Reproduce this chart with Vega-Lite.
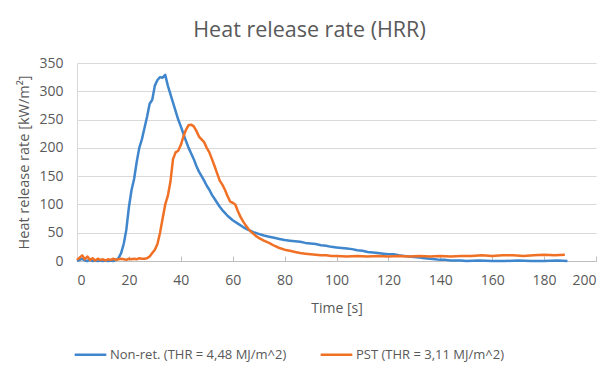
{
  "$schema": "https://vega.github.io/schema/vega-lite/v6.json",
  "autosize": {"type": "none"},
  "padding": {"left": 77, "top": 63, "right": 11, "bottom": 106},
  "width": 519,
  "height": 198,
  "background": "white",
  "title": {
    "text": "Heat release rate (HRR)",
    "fontSize": 21.5,
    "font": "Open Sans",
    "fontWeight": "normal",
    "color": "#595959",
    "anchor": "middle",
    "dx": -27,
    "offset": 15
  },
  "data": {"values": [
    {"s":"Non-ret. (THR = 4,48 MJ/m^2)","t":0,"v":0},
    {"s":"Non-ret. (THR = 4,48 MJ/m^2)","t":1,"v":2},
    {"s":"Non-ret. (THR = 4,48 MJ/m^2)","t":2,"v":4},
    {"s":"Non-ret. (THR = 4,48 MJ/m^2)","t":3,"v":1},
    {"s":"Non-ret. (THR = 4,48 MJ/m^2)","t":4,"v":0},
    {"s":"Non-ret. (THR = 4,48 MJ/m^2)","t":5,"v":2},
    {"s":"Non-ret. (THR = 4,48 MJ/m^2)","t":6,"v":0},
    {"s":"Non-ret. (THR = 4,48 MJ/m^2)","t":7,"v":1},
    {"s":"Non-ret. (THR = 4,48 MJ/m^2)","t":8,"v":0},
    {"s":"Non-ret. (THR = 4,48 MJ/m^2)","t":9,"v":1},
    {"s":"Non-ret. (THR = 4,48 MJ/m^2)","t":10,"v":0},
    {"s":"Non-ret. (THR = 4,48 MJ/m^2)","t":11,"v":1},
    {"s":"Non-ret. (THR = 4,48 MJ/m^2)","t":12,"v":0},
    {"s":"Non-ret. (THR = 4,48 MJ/m^2)","t":13,"v":1},
    {"s":"Non-ret. (THR = 4,48 MJ/m^2)","t":14,"v":0},
    {"s":"Non-ret. (THR = 4,48 MJ/m^2)","t":15,"v":2},
    {"s":"Non-ret. (THR = 4,48 MJ/m^2)","t":16,"v":5},
    {"s":"Non-ret. (THR = 4,48 MJ/m^2)","t":17,"v":14},
    {"s":"Non-ret. (THR = 4,48 MJ/m^2)","t":18,"v":30},
    {"s":"Non-ret. (THR = 4,48 MJ/m^2)","t":19,"v":55},
    {"s":"Non-ret. (THR = 4,48 MJ/m^2)","t":20,"v":95},
    {"s":"Non-ret. (THR = 4,48 MJ/m^2)","t":21,"v":125},
    {"s":"Non-ret. (THR = 4,48 MJ/m^2)","t":22,"v":145},
    {"s":"Non-ret. (THR = 4,48 MJ/m^2)","t":23,"v":175},
    {"s":"Non-ret. (THR = 4,48 MJ/m^2)","t":24,"v":200},
    {"s":"Non-ret. (THR = 4,48 MJ/m^2)","t":25,"v":215},
    {"s":"Non-ret. (THR = 4,48 MJ/m^2)","t":26,"v":235},
    {"s":"Non-ret. (THR = 4,48 MJ/m^2)","t":27,"v":255},
    {"s":"Non-ret. (THR = 4,48 MJ/m^2)","t":28,"v":278},
    {"s":"Non-ret. (THR = 4,48 MJ/m^2)","t":29,"v":285},
    {"s":"Non-ret. (THR = 4,48 MJ/m^2)","t":30,"v":310},
    {"s":"Non-ret. (THR = 4,48 MJ/m^2)","t":31,"v":320},
    {"s":"Non-ret. (THR = 4,48 MJ/m^2)","t":32,"v":325},
    {"s":"Non-ret. (THR = 4,48 MJ/m^2)","t":33,"v":324},
    {"s":"Non-ret. (THR = 4,48 MJ/m^2)","t":34,"v":329},
    {"s":"Non-ret. (THR = 4,48 MJ/m^2)","t":35,"v":310},
    {"s":"Non-ret. (THR = 4,48 MJ/m^2)","t":36,"v":295},
    {"s":"Non-ret. (THR = 4,48 MJ/m^2)","t":37,"v":280},
    {"s":"Non-ret. (THR = 4,48 MJ/m^2)","t":38,"v":265},
    {"s":"Non-ret. (THR = 4,48 MJ/m^2)","t":39,"v":250},
    {"s":"Non-ret. (THR = 4,48 MJ/m^2)","t":40,"v":238},
    {"s":"Non-ret. (THR = 4,48 MJ/m^2)","t":41,"v":225},
    {"s":"Non-ret. (THR = 4,48 MJ/m^2)","t":42,"v":212},
    {"s":"Non-ret. (THR = 4,48 MJ/m^2)","t":43,"v":200},
    {"s":"Non-ret. (THR = 4,48 MJ/m^2)","t":44,"v":190},
    {"s":"Non-ret. (THR = 4,48 MJ/m^2)","t":45,"v":180},
    {"s":"Non-ret. (THR = 4,48 MJ/m^2)","t":46,"v":168},
    {"s":"Non-ret. (THR = 4,48 MJ/m^2)","t":47,"v":158},
    {"s":"Non-ret. (THR = 4,48 MJ/m^2)","t":48,"v":150},
    {"s":"Non-ret. (THR = 4,48 MJ/m^2)","t":49,"v":142},
    {"s":"Non-ret. (THR = 4,48 MJ/m^2)","t":50,"v":133},
    {"s":"Non-ret. (THR = 4,48 MJ/m^2)","t":51,"v":126},
    {"s":"Non-ret. (THR = 4,48 MJ/m^2)","t":52,"v":117},
    {"s":"Non-ret. (THR = 4,48 MJ/m^2)","t":53,"v":110},
    {"s":"Non-ret. (THR = 4,48 MJ/m^2)","t":54,"v":103},
    {"s":"Non-ret. (THR = 4,48 MJ/m^2)","t":55,"v":96},
    {"s":"Non-ret. (THR = 4,48 MJ/m^2)","t":56,"v":90},
    {"s":"Non-ret. (THR = 4,48 MJ/m^2)","t":57,"v":85},
    {"s":"Non-ret. (THR = 4,48 MJ/m^2)","t":58,"v":80},
    {"s":"Non-ret. (THR = 4,48 MJ/m^2)","t":59,"v":76},
    {"s":"Non-ret. (THR = 4,48 MJ/m^2)","t":60,"v":72},
    {"s":"Non-ret. (THR = 4,48 MJ/m^2)","t":62,"v":66},
    {"s":"Non-ret. (THR = 4,48 MJ/m^2)","t":64,"v":60},
    {"s":"Non-ret. (THR = 4,48 MJ/m^2)","t":66,"v":55},
    {"s":"Non-ret. (THR = 4,48 MJ/m^2)","t":68,"v":51},
    {"s":"Non-ret. (THR = 4,48 MJ/m^2)","t":70,"v":48},
    {"s":"Non-ret. (THR = 4,48 MJ/m^2)","t":72,"v":45},
    {"s":"Non-ret. (THR = 4,48 MJ/m^2)","t":74,"v":43},
    {"s":"Non-ret. (THR = 4,48 MJ/m^2)","t":76,"v":41},
    {"s":"Non-ret. (THR = 4,48 MJ/m^2)","t":78,"v":39},
    {"s":"Non-ret. (THR = 4,48 MJ/m^2)","t":80,"v":37},
    {"s":"Non-ret. (THR = 4,48 MJ/m^2)","t":82,"v":36},
    {"s":"Non-ret. (THR = 4,48 MJ/m^2)","t":84,"v":35},
    {"s":"Non-ret. (THR = 4,48 MJ/m^2)","t":86,"v":34},
    {"s":"Non-ret. (THR = 4,48 MJ/m^2)","t":88,"v":32},
    {"s":"Non-ret. (THR = 4,48 MJ/m^2)","t":90,"v":31},
    {"s":"Non-ret. (THR = 4,48 MJ/m^2)","t":92,"v":30},
    {"s":"Non-ret. (THR = 4,48 MJ/m^2)","t":94,"v":28},
    {"s":"Non-ret. (THR = 4,48 MJ/m^2)","t":96,"v":27},
    {"s":"Non-ret. (THR = 4,48 MJ/m^2)","t":98,"v":25},
    {"s":"Non-ret. (THR = 4,48 MJ/m^2)","t":100,"v":24},
    {"s":"Non-ret. (THR = 4,48 MJ/m^2)","t":102,"v":23},
    {"s":"Non-ret. (THR = 4,48 MJ/m^2)","t":104,"v":22},
    {"s":"Non-ret. (THR = 4,48 MJ/m^2)","t":106,"v":21},
    {"s":"Non-ret. (THR = 4,48 MJ/m^2)","t":108,"v":19},
    {"s":"Non-ret. (THR = 4,48 MJ/m^2)","t":110,"v":18},
    {"s":"Non-ret. (THR = 4,48 MJ/m^2)","t":112,"v":16},
    {"s":"Non-ret. (THR = 4,48 MJ/m^2)","t":114,"v":15},
    {"s":"Non-ret. (THR = 4,48 MJ/m^2)","t":116,"v":14},
    {"s":"Non-ret. (THR = 4,48 MJ/m^2)","t":118,"v":13},
    {"s":"Non-ret. (THR = 4,48 MJ/m^2)","t":120,"v":12},
    {"s":"Non-ret. (THR = 4,48 MJ/m^2)","t":122,"v":12},
    {"s":"Non-ret. (THR = 4,48 MJ/m^2)","t":124,"v":10},
    {"s":"Non-ret. (THR = 4,48 MJ/m^2)","t":126,"v":9},
    {"s":"Non-ret. (THR = 4,48 MJ/m^2)","t":128,"v":8},
    {"s":"Non-ret. (THR = 4,48 MJ/m^2)","t":130,"v":7},
    {"s":"Non-ret. (THR = 4,48 MJ/m^2)","t":132,"v":6},
    {"s":"Non-ret. (THR = 4,48 MJ/m^2)","t":134,"v":5},
    {"s":"Non-ret. (THR = 4,48 MJ/m^2)","t":136,"v":4},
    {"s":"Non-ret. (THR = 4,48 MJ/m^2)","t":138,"v":3},
    {"s":"Non-ret. (THR = 4,48 MJ/m^2)","t":140,"v":2},
    {"s":"Non-ret. (THR = 4,48 MJ/m^2)","t":142,"v":2},
    {"s":"Non-ret. (THR = 4,48 MJ/m^2)","t":144,"v":1},
    {"s":"Non-ret. (THR = 4,48 MJ/m^2)","t":146,"v":1},
    {"s":"Non-ret. (THR = 4,48 MJ/m^2)","t":148,"v":1},
    {"s":"Non-ret. (THR = 4,48 MJ/m^2)","t":150,"v":0},
    {"s":"Non-ret. (THR = 4,48 MJ/m^2)","t":155,"v":1},
    {"s":"Non-ret. (THR = 4,48 MJ/m^2)","t":160,"v":0},
    {"s":"Non-ret. (THR = 4,48 MJ/m^2)","t":165,"v":0},
    {"s":"Non-ret. (THR = 4,48 MJ/m^2)","t":170,"v":1},
    {"s":"Non-ret. (THR = 4,48 MJ/m^2)","t":175,"v":0},
    {"s":"Non-ret. (THR = 4,48 MJ/m^2)","t":180,"v":0},
    {"s":"Non-ret. (THR = 4,48 MJ/m^2)","t":185,"v":1},
    {"s":"Non-ret. (THR = 4,48 MJ/m^2)","t":189,"v":0},
    {"s":"PST (THR = 3,11 MJ/m^2)","t":0,"v":2},
    {"s":"PST (THR = 3,11 MJ/m^2)","t":1,"v":6},
    {"s":"PST (THR = 3,11 MJ/m^2)","t":2,"v":10},
    {"s":"PST (THR = 3,11 MJ/m^2)","t":3,"v":3},
    {"s":"PST (THR = 3,11 MJ/m^2)","t":4,"v":8},
    {"s":"PST (THR = 3,11 MJ/m^2)","t":5,"v":2},
    {"s":"PST (THR = 3,11 MJ/m^2)","t":6,"v":5},
    {"s":"PST (THR = 3,11 MJ/m^2)","t":7,"v":1},
    {"s":"PST (THR = 3,11 MJ/m^2)","t":8,"v":4},
    {"s":"PST (THR = 3,11 MJ/m^2)","t":9,"v":2},
    {"s":"PST (THR = 3,11 MJ/m^2)","t":10,"v":3},
    {"s":"PST (THR = 3,11 MJ/m^2)","t":11,"v":1},
    {"s":"PST (THR = 3,11 MJ/m^2)","t":12,"v":3},
    {"s":"PST (THR = 3,11 MJ/m^2)","t":13,"v":2},
    {"s":"PST (THR = 3,11 MJ/m^2)","t":14,"v":4},
    {"s":"PST (THR = 3,11 MJ/m^2)","t":15,"v":2},
    {"s":"PST (THR = 3,11 MJ/m^2)","t":16,"v":3},
    {"s":"PST (THR = 3,11 MJ/m^2)","t":17,"v":4},
    {"s":"PST (THR = 3,11 MJ/m^2)","t":18,"v":3},
    {"s":"PST (THR = 3,11 MJ/m^2)","t":19,"v":2},
    {"s":"PST (THR = 3,11 MJ/m^2)","t":20,"v":4},
    {"s":"PST (THR = 3,11 MJ/m^2)","t":21,"v":3},
    {"s":"PST (THR = 3,11 MJ/m^2)","t":22,"v":4},
    {"s":"PST (THR = 3,11 MJ/m^2)","t":23,"v":3},
    {"s":"PST (THR = 3,11 MJ/m^2)","t":24,"v":5},
    {"s":"PST (THR = 3,11 MJ/m^2)","t":25,"v":4},
    {"s":"PST (THR = 3,11 MJ/m^2)","t":26,"v":4},
    {"s":"PST (THR = 3,11 MJ/m^2)","t":27,"v":5},
    {"s":"PST (THR = 3,11 MJ/m^2)","t":28,"v":8},
    {"s":"PST (THR = 3,11 MJ/m^2)","t":29,"v":14},
    {"s":"PST (THR = 3,11 MJ/m^2)","t":30,"v":20},
    {"s":"PST (THR = 3,11 MJ/m^2)","t":31,"v":30},
    {"s":"PST (THR = 3,11 MJ/m^2)","t":32,"v":50},
    {"s":"PST (THR = 3,11 MJ/m^2)","t":33,"v":75},
    {"s":"PST (THR = 3,11 MJ/m^2)","t":34,"v":100},
    {"s":"PST (THR = 3,11 MJ/m^2)","t":35,"v":115},
    {"s":"PST (THR = 3,11 MJ/m^2)","t":36,"v":140},
    {"s":"PST (THR = 3,11 MJ/m^2)","t":37,"v":180},
    {"s":"PST (THR = 3,11 MJ/m^2)","t":38,"v":192},
    {"s":"PST (THR = 3,11 MJ/m^2)","t":39,"v":195},
    {"s":"PST (THR = 3,11 MJ/m^2)","t":40,"v":205},
    {"s":"PST (THR = 3,11 MJ/m^2)","t":41,"v":220},
    {"s":"PST (THR = 3,11 MJ/m^2)","t":42,"v":232},
    {"s":"PST (THR = 3,11 MJ/m^2)","t":43,"v":240},
    {"s":"PST (THR = 3,11 MJ/m^2)","t":44,"v":241},
    {"s":"PST (THR = 3,11 MJ/m^2)","t":45,"v":238},
    {"s":"PST (THR = 3,11 MJ/m^2)","t":46,"v":230},
    {"s":"PST (THR = 3,11 MJ/m^2)","t":47,"v":220},
    {"s":"PST (THR = 3,11 MJ/m^2)","t":48,"v":215},
    {"s":"PST (THR = 3,11 MJ/m^2)","t":49,"v":210},
    {"s":"PST (THR = 3,11 MJ/m^2)","t":50,"v":200},
    {"s":"PST (THR = 3,11 MJ/m^2)","t":51,"v":192},
    {"s":"PST (THR = 3,11 MJ/m^2)","t":52,"v":180},
    {"s":"PST (THR = 3,11 MJ/m^2)","t":53,"v":168},
    {"s":"PST (THR = 3,11 MJ/m^2)","t":54,"v":155},
    {"s":"PST (THR = 3,11 MJ/m^2)","t":55,"v":142},
    {"s":"PST (THR = 3,11 MJ/m^2)","t":56,"v":135},
    {"s":"PST (THR = 3,11 MJ/m^2)","t":57,"v":126},
    {"s":"PST (THR = 3,11 MJ/m^2)","t":58,"v":115},
    {"s":"PST (THR = 3,11 MJ/m^2)","t":59,"v":105},
    {"s":"PST (THR = 3,11 MJ/m^2)","t":60,"v":103},
    {"s":"PST (THR = 3,11 MJ/m^2)","t":61,"v":100},
    {"s":"PST (THR = 3,11 MJ/m^2)","t":62,"v":88},
    {"s":"PST (THR = 3,11 MJ/m^2)","t":63,"v":78},
    {"s":"PST (THR = 3,11 MJ/m^2)","t":64,"v":70},
    {"s":"PST (THR = 3,11 MJ/m^2)","t":65,"v":63},
    {"s":"PST (THR = 3,11 MJ/m^2)","t":66,"v":57},
    {"s":"PST (THR = 3,11 MJ/m^2)","t":67,"v":52},
    {"s":"PST (THR = 3,11 MJ/m^2)","t":68,"v":48},
    {"s":"PST (THR = 3,11 MJ/m^2)","t":69,"v":44},
    {"s":"PST (THR = 3,11 MJ/m^2)","t":70,"v":41},
    {"s":"PST (THR = 3,11 MJ/m^2)","t":72,"v":36},
    {"s":"PST (THR = 3,11 MJ/m^2)","t":74,"v":32},
    {"s":"PST (THR = 3,11 MJ/m^2)","t":76,"v":27},
    {"s":"PST (THR = 3,11 MJ/m^2)","t":78,"v":23},
    {"s":"PST (THR = 3,11 MJ/m^2)","t":80,"v":20},
    {"s":"PST (THR = 3,11 MJ/m^2)","t":82,"v":18},
    {"s":"PST (THR = 3,11 MJ/m^2)","t":84,"v":16},
    {"s":"PST (THR = 3,11 MJ/m^2)","t":86,"v":14},
    {"s":"PST (THR = 3,11 MJ/m^2)","t":88,"v":13},
    {"s":"PST (THR = 3,11 MJ/m^2)","t":90,"v":12},
    {"s":"PST (THR = 3,11 MJ/m^2)","t":92,"v":11},
    {"s":"PST (THR = 3,11 MJ/m^2)","t":94,"v":10},
    {"s":"PST (THR = 3,11 MJ/m^2)","t":96,"v":10},
    {"s":"PST (THR = 3,11 MJ/m^2)","t":98,"v":9},
    {"s":"PST (THR = 3,11 MJ/m^2)","t":100,"v":9},
    {"s":"PST (THR = 3,11 MJ/m^2)","t":104,"v":8},
    {"s":"PST (THR = 3,11 MJ/m^2)","t":108,"v":9},
    {"s":"PST (THR = 3,11 MJ/m^2)","t":112,"v":8},
    {"s":"PST (THR = 3,11 MJ/m^2)","t":116,"v":9},
    {"s":"PST (THR = 3,11 MJ/m^2)","t":120,"v":8},
    {"s":"PST (THR = 3,11 MJ/m^2)","t":124,"v":9},
    {"s":"PST (THR = 3,11 MJ/m^2)","t":128,"v":8},
    {"s":"PST (THR = 3,11 MJ/m^2)","t":132,"v":9},
    {"s":"PST (THR = 3,11 MJ/m^2)","t":136,"v":8},
    {"s":"PST (THR = 3,11 MJ/m^2)","t":140,"v":9},
    {"s":"PST (THR = 3,11 MJ/m^2)","t":144,"v":8},
    {"s":"PST (THR = 3,11 MJ/m^2)","t":148,"v":9},
    {"s":"PST (THR = 3,11 MJ/m^2)","t":152,"v":9},
    {"s":"PST (THR = 3,11 MJ/m^2)","t":156,"v":10},
    {"s":"PST (THR = 3,11 MJ/m^2)","t":160,"v":9},
    {"s":"PST (THR = 3,11 MJ/m^2)","t":164,"v":10},
    {"s":"PST (THR = 3,11 MJ/m^2)","t":168,"v":10},
    {"s":"PST (THR = 3,11 MJ/m^2)","t":172,"v":9},
    {"s":"PST (THR = 3,11 MJ/m^2)","t":176,"v":10},
    {"s":"PST (THR = 3,11 MJ/m^2)","t":180,"v":11},
    {"s":"PST (THR = 3,11 MJ/m^2)","t":184,"v":10},
    {"s":"PST (THR = 3,11 MJ/m^2)","t":188,"v":11}
  ]},
  "mark": {"type": "line", "strokeWidth": 2.5, "strokeJoin": "round"},
  "encoding": {
    "x": {
      "field": "t", "type": "quantitative",
      "scale": {"domain": [0, 200], "nice": false},
      "axis": {
        "title": "Time [s]",
        "values": [0,20,40,60,80,100,120,140,160,180,200],
        "grid": false,
        "domainColor": "#bfbfbf",
        "tickColor": "#bfbfbf",
        "tickSize": -5,
        "labelPadding": 17,
        "titlePadding": 14
      }
    },
    "y": {
      "field": "v", "type": "quantitative",
      "scale": {"domain": [0, 350], "nice": false},
      "axis": {
        "title": "Heat release rate [kW/m²]",
        "values": [0,50,100,150,200,250,300,350],
        "grid": true,
        "gridColor": "#d9d9d9",
        "domainColor": "#d9d9d9",
        "ticks": false,
        "labelPadding": 14,
        "titlePadding": 7,
        "titleFontSize": 14.5
      }
    },
    "color": {
      "field": "s", "type": "nominal",
      "scale": {
        "domain": ["Non-ret. (THR = 4,48 MJ/m^2)", "PST (THR = 3,11 MJ/m^2)"],
        "range": ["#3f86cd", "#f07125"]
      },
      "legend": {
        "title": null,
        "orient": "none",
        "legendX": -4,
        "legendY": 274,
        "direction": "horizontal",
        "symbolType": "stroke",
        "symbolSize": 1000,
        "symbolStrokeWidth": 2.5,
        "columnPadding": 28,
        "labelOffset": 2,
        "labelFontSize": 13,
        "labelColor": "#595959",
        "labelFont": "Open Sans",
        "labelLimit": 400
      }
    }
  },
  "config": {
    "view": {"stroke": null},
    "axis": {
      "labelFont": "Open Sans",
      "labelFontSize": 14,
      "labelColor": "#595959",
      "titleFont": "Open Sans",
      "titleFontSize": 14,
      "titleFontWeight": "normal",
      "titleColor": "#595959"
    }
  }
}
